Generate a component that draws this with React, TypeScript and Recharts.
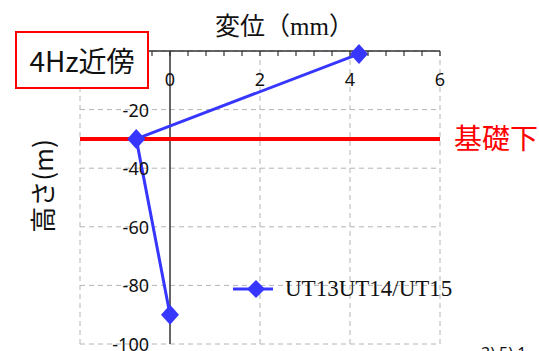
import { LineChart, Line, XAxis, YAxis, CartesianGrid, ReferenceLine, Legend } from 'recharts';

// displacement (mm) vs height (m), 4Hz band
const displacement = [4.2, -0.75, 0];
const height = [-1, -30, -90];
const seriesName = 'UT13UT14/UT15';

const xMinorTicks = [-2, -1.6, -1.2, -0.8, -0.4, 0, 0.4, 0.8, 1.2, 1.6, 2, 2.4, 2.8, 3.2, 3.6, 4, 4.4, 4.8, 5.2, 5.6, 6];
const xLabelTicks = [0, 2, 4, 6];
const xGridLines = [-2, 2, 4, 6];
const yTicks = [-100, -80, -60, -40, -20, 0];
const foundationLevel = -30;

const data = displacement.map((d, i) => ({ disp: d, height: height[i] }));

const W = 539;
const H = 351;
const M = { top: 50, left: 79, right: 99, bottom: 7 };
const X_DOMAIN: [number, number] = [-2, 6];
const PLOT_W = W - M.left - 1 - M.right;
const ZERO_X = (PLOT_W * (0 - X_DOMAIN[0])) / (X_DOMAIN[1] - X_DOMAIN[0]);

const BLUE = '#3636ff';
const RED = '#ff0000';
const TICK_FONT = '"Noto Sans", sans-serif';
const JP_FONT = '"Noto Sans CJK JP", sans-serif';

const XTick = ({ x, y, payload }: any) => {
  const v = payload.value;
  const labelled = xLabelTicks.some((t) => Math.abs(t - v) < 1e-6);
  return (
    <g>
      <line x1={x} x2={x} y1={y} y2={y + 5} stroke="#333" strokeWidth={1.2} />
      {labelled && (
        <text x={x} y={y + 28} textAnchor="middle" dominantBaseline="central" fontSize={18} fontFamily={TICK_FONT} fill="#111">
          {Math.round(v)}
        </text>
      )}
    </g>
  );
};

const YTick = ({ x, y, payload }: any) => {
  if (payload.value === 0) return <g />;
  return (
    <text x={x + ZERO_X - 21} y={y} textAnchor="end" dominantBaseline="central" fontSize={18} fontFamily={TICK_FONT} fill="#111">
      {payload.value}
    </text>
  );
};

const Diamond = ({ cx, cy, index }: any) => (
  <polygon key={index} points={`${cx},${cy - 10} ${cx + 9},${cy} ${cx},${cy + 10} ${cx - 9},${cy}`} fill={BLUE} />
);

const LegendContent = () => (
  <div style={{ display: 'flex', alignItems: 'center' }}>
    <svg width={40} height={20}>
      <line x1={0} x2={40} y1={10} y2={10} stroke={BLUE} strokeWidth={3} />
      <polygon points="23,1 32,10 23,19 14,10" fill={BLUE} />
    </svg>
    <span style={{ marginLeft: 12, fontFamily: '"Liberation Serif", serif', fontSize: 23, color: '#111', lineHeight: '23px' }}>
      {seriesName}
    </span>
  </div>
);

export default function App() {
  return (
    <div style={{ position: 'absolute', left: 0, top: 0, width: W, height: H, overflow: 'hidden', background: '#fff' }}>
      <LineChart width={W} height={H} data={data} margin={M}>
        <CartesianGrid vertical={false} stroke="#b4b4b4" strokeDasharray="5 4" />
        {xGridLines.map((v) => (
          <ReferenceLine key={v} x={v} stroke="#b4b4b4" strokeDasharray="5 4" />
        ))}
        <ReferenceLine x={0} stroke="#333" strokeWidth={1.5} />
        <ReferenceLine
          y={foundationLevel}
          stroke={RED}
          strokeWidth={4}
          label={{ value: '基礎下', position: 'right', offset: 14, fill: RED, fontSize: 28, fontFamily: JP_FONT }}
        />
        <XAxis
          dataKey="disp"
          type="number"
          orientation="top"
          domain={X_DOMAIN}
          ticks={xMinorTicks}
          interval={0}
          height={1}
          tickSize={0}
          tickMargin={0}
          tickLine={false}
          axisLine={{ stroke: '#333', strokeWidth: 1.5 }}
          tick={<XTick />}
        />
        <YAxis
          type="number"
          domain={[-100, 0]}
          ticks={yTicks}
          interval={0}
          width={1}
          tickSize={0}
          tickMargin={0}
          tickLine={false}
          axisLine={false}
          tick={<YTick />}
        />
        <Legend
          layout="horizontal"
          verticalAlign="middle"
          align="center"
          content={<LegendContent />}
          wrapperStyle={{ position: 'absolute', left: 233, top: 277, width: 240 }}
        />
        <Line
          dataKey="height"
          name={seriesName}
          stroke={BLUE}
          strokeWidth={3}
          dot={<Diamond />}
          activeDot={false}
          isAnimationActive={false}
        />
      </LineChart>

      <div style={{ position: 'absolute', left: 215, top: 12, fontSize: 25, lineHeight: '25px', whiteSpace: 'nowrap', color: '#111' }}>
        <span style={{ fontFamily: JP_FONT }}>変位（</span>
        <span style={{ fontFamily: '"Liberation Serif", serif' }}>mm</span>
        <span style={{ fontFamily: JP_FONT }}>）</span>
      </div>

      <div
        style={{
          position: 'absolute',
          left: 42,
          top: 186,
          transform: 'translate(-50%, -50%) rotate(-90deg)',
          fontFamily: JP_FONT,
          fontSize: 26,
          lineHeight: '26px',
          whiteSpace: 'nowrap',
          color: '#111',
        }}
      >
        高さ(m)
      </div>

      <div
        style={{
          position: 'absolute',
          left: 15,
          top: 31,
          width: 134,
          height: 58,
          boxSizing: 'border-box',
          border: `2px solid ${RED}`,
          background: '#fff',
          display: 'flex',
          alignItems: 'center',
          justifyContent: 'center',
          fontFamily: JP_FONT,
          fontSize: 28,
          color: '#111',
        }}
      >
        4Hz近傍
      </div>

      <div style={{ position: 'absolute', left: 481, top: 345, fontFamily: TICK_FONT, fontSize: 16, lineHeight: '16px', whiteSpace: 'nowrap', color: '#111' }}>
        3) 5) 1
      </div>
    </div>
  );
}
